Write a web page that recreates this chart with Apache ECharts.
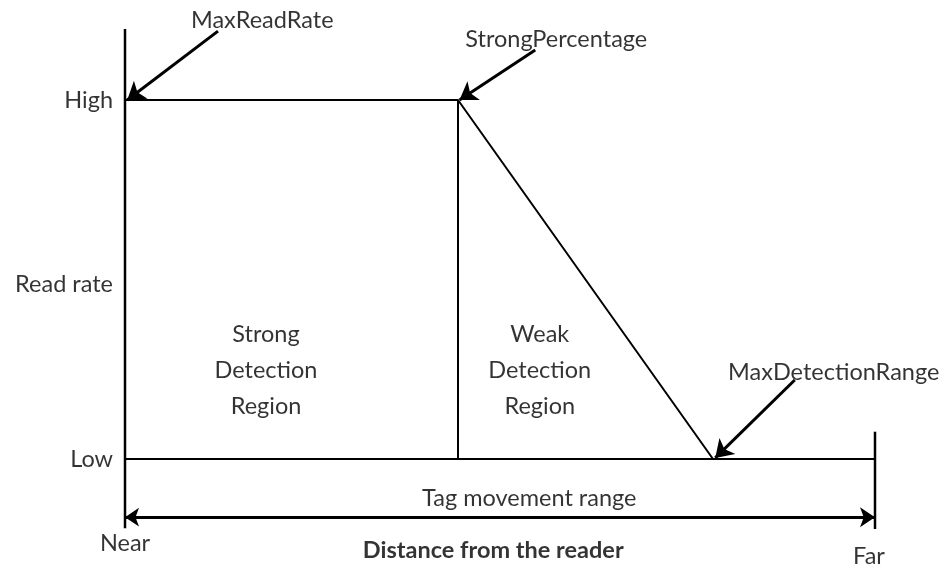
<!DOCTYPE html>
<html>
<head>
<meta charset="utf-8">
<title>Read rate vs. distance from the reader</title>
<script src="https://cdn.jsdelivr.net/npm/echarts@6/dist/echarts.min.js"></script>
<style>
  html, body { margin: 0; padding: 0; background: #ffffff; }
  #chart { width: 944px; height: 568px; }
</style>
</head>
<body>
<div id="chart"></div>
<script>
// Distance runs 0 (Near) .. 100 (Far); read rate runs 0 (Low) .. 100 (High).
const strongPercentage = 44.4;      // end of the strong detection region
const maxDetectionRange = 78.4;     // read rate falls to Low here
const readRateCurve = [[0, 100], [strongPercentage, 100], [maxDetectionRange, 0]];
const regionDivider = [[strongPercentage, 100], [strongPercentage, 0]];
const lowBaseline = [[0, 0], [100, 0]];
const readRateAxis = [[0, 119.8], [0, -19.3]];
const farMarker = [[100, 7.6], [100, -19.5]];
const movementRange = [[0, -16.2], [100, -16.2]];

// Annotation arrows: [from, to]
const pointerArrows = [
  [[12.4, 119.2], [0.3, 100]],
  [[54.7, 113.9], [strongPercentage + 0.2, 100]],
  [[89.3, 22.0], [maxDetectionRange + 0.3, 0.3]]
];

// Text labels: [x, y, text]
const annotationLabels = [
  [18.3, 122.3, 'MaxReadRate'],
  [57.5, 117.0, 'StrongPercentage'],
  [94.5, 24.0, 'MaxDetectionRange'],
  [18.8, 24.8, 'Strong\nDetection\nRegion'],
  [55.3, 24.8, 'Weak\nDetection\nRegion'],
  [53.9, -10.9, 'Tag movement range'],
  [0, -23.4, 'Near'],
  [99.2, -27.0, 'Far']
];
const axisTitle = [[49.1, -25.6, 'Distance from the reader']];
const rateLabels = [
  [-1.6, 100, 'High'],
  [-1.6, 48.5, 'Read rate'],
  [-1.6, 0, 'Low']
];

const FONT = 'Lato';
const FONT_SIZE = 23.5;

function segment(points, width) {
  return {
    type: 'line',
    data: points,
    symbol: 'none',
    clip: false,
    silent: true,
    animation: false,
    lineStyle: { color: '#000000', width: width }
  };
}

function textSeries(items, extra) {
  return {
    type: 'scatter',
    data: items.map(d => ({ value: [d[0], d[1]], name: d[2] })),
    symbolSize: 0,
    clip: false,
    silent: true,
    animation: false,
    label: Object.assign({
      show: true,
      position: 'inside',
      formatter: p => p.name,
      color: '#000000',
      fontFamily: FONT,
      fontSize: FONT_SIZE,
      lineHeight: 36,
      align: 'center',
      verticalAlign: 'middle'
    }, extra || {})
  };
}

const chart = echarts.init(document.getElementById('chart'), null, { renderer: 'canvas' });
chart.setOption({
  backgroundColor: '#ffffff',
  animation: false,
  grid: { left: 125, right: 69, top: 100, bottom: 109, containLabel: false },
  xAxis: {
    type: 'value', min: 0, max: 100,
    axisLine: { show: false }, axisTick: { show: false },
    axisLabel: { show: false }, splitLine: { show: false }
  },
  yAxis: {
    type: 'value', min: 0, max: 100,
    axisLine: { show: false }, axisTick: { show: false },
    axisLabel: { show: false }, splitLine: { show: false }
  },
  series: [
    segment(readRateAxis, 2.5),
    segment(lowBaseline, 2),
    segment(farMarker, 2.5),
    segment(regionDivider, 2),
    segment(readRateCurve, 2),
    {
      type: 'lines',
      coordinateSystem: 'cartesian2d',
      clip: false,
      silent: true,
      animation: false,
      symbol: ['arrow', 'arrow'],
      symbolSize: [14, 15],
      lineStyle: { color: '#000000', width: 3, opacity: 1 },
      data: [{ coords: movementRange }]
    },
    {
      type: 'lines',
      coordinateSystem: 'cartesian2d',
      clip: false,
      silent: true,
      animation: false,
      symbol: ['none', 'arrow'],
      symbolSize: [15, 17],
      lineStyle: { color: '#000000', width: 3, opacity: 1 },
      data: pointerArrows.map(a => ({ coords: a }))
    },
    textSeries(annotationLabels),
    textSeries(axisTitle, { fontWeight: 'bold' }),
    textSeries(rateLabels, { align: 'right' })
  ]
});
</script>
</body>
</html>
